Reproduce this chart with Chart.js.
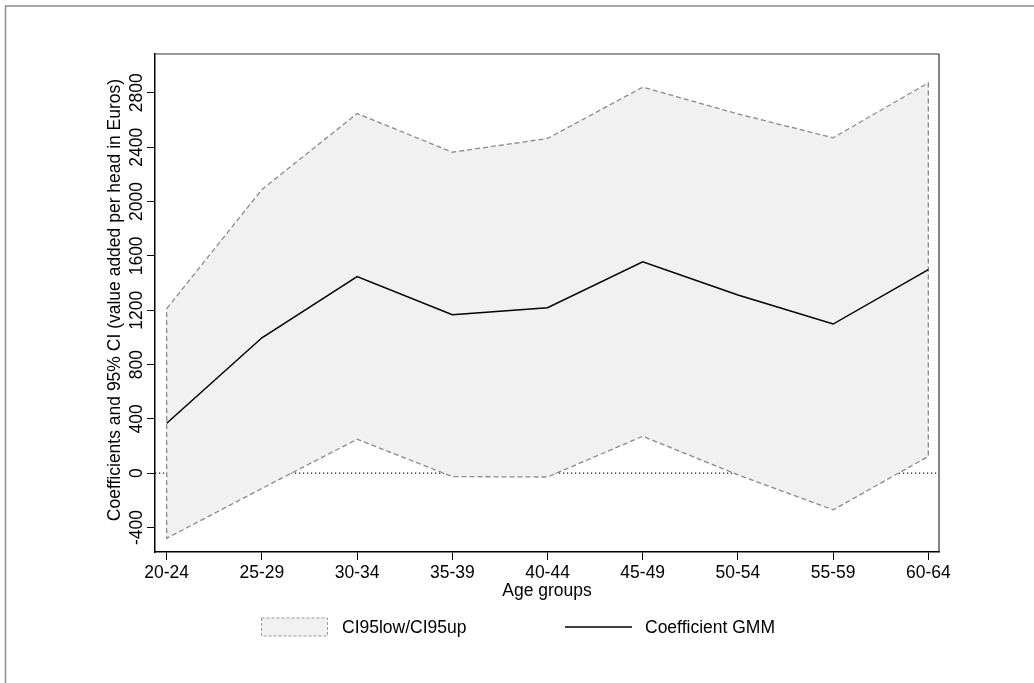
<!DOCTYPE html>
<html>
<head>
<meta charset="utf-8">
<script src="https://cdn.jsdelivr.net/npm/chart.js@4.4.1/dist/chart.umd.min.js"></script>
<style>
  body { margin: 0; background: #fff; }
  #wrap { width: 1034px; height: 683px; }
</style>
</head>
<body>
<div id="wrap"><canvas id="myChart"></canvas></div>
<script>
// data
const ageGroups = ['20-24', '25-29', '30-34', '35-39', '40-44', '45-49', '50-54', '55-59', '60-64'];
const coefGMM = [368, 997, 1447, 1167, 1218, 1557, 1312, 1098, 1498];
const ci95up = [1212, 2088, 2648, 2363, 2464, 2842, 2645, 2469, 2874];
const ci95low = [-479, -112, 250, -25, -28, 272, -12, -270, 124];
const yTicks = [-400, 0, 400, 800, 1200, 1600, 2000, 2400, 2800];
const yTitle = 'Coefficients and 95% CI (value added per head in Euros)';
const xTitle = 'Age groups';
const legendLabels = ['CI95low/CI95up', 'Coefficient GMM'];

const FONT = '17.5px "Liberation Sans", Arial, sans-serif';
const X_MIN = -0.123, X_MAX = 8.112;

// closed polygon: upper bound left->right, lower bound right->left
const band = ci95up.map((v, i) => ({ x: i, y: v }))
    .concat(ci95low.map((v, i) => ({ x: i, y: v })).reverse());
band.push(band[0]);

const coefPoints = coefGMM.map((v, i) => ({ x: i, y: v }));
const zeroLine = [{ x: X_MIN, y: 0 }, { x: X_MAX, y: 0 }];

const extras = {
    id: 'extras',
    beforeDraw(chart) {
        const ctx = chart.ctx;
        ctx.save();
        ctx.strokeStyle = '#8f8f8f';
        ctx.lineWidth = 1.5;
        ctx.beginPath();
        ctx.moveTo(5.5, chart.height);
        ctx.lineTo(5.5, 6);
        ctx.lineTo(chart.width, 6);
        ctx.stroke();
        ctx.restore();
    },
    afterDraw(chart) {
        const ctx = chart.ctx;
        const a = chart.chartArea;
        const y = chart.scales.y;
        ctx.save();
        // top and right edges of the plot box
        ctx.strokeStyle = '#333';
        ctx.lineWidth = 1.2;
        ctx.beginPath();
        ctx.moveTo(a.left, a.top);
        ctx.lineTo(a.right, a.top);
        ctx.lineTo(a.right, a.bottom);
        ctx.stroke();

        ctx.font = FONT;
        ctx.fillStyle = '#000';
        ctx.textAlign = 'center';
        ctx.textBaseline = 'alphabetic';
        // rotated y tick labels
        y.ticks.forEach(t => {
            ctx.save();
            ctx.translate(a.left - 13, y.getPixelForValue(t.value));
            ctx.rotate(-Math.PI / 2);
            ctx.fillText(String(t.value), 0, 0);
            ctx.restore();
        });
        // y title
        ctx.save();
        ctx.translate(a.left - 35.5, (a.top + a.bottom) / 2 - 3);
        ctx.rotate(-Math.PI / 2);
        ctx.fillText(yTitle, 0, 0);
        ctx.restore();
        // x title
        ctx.fillText(xTitle, (a.left + a.right) / 2, a.bottom + 44);

        // legend
        const ly = a.bottom + 75;
        ctx.fillStyle = '#f1f1f1';
        ctx.fillRect(261.5, ly - 9, 66, 18);
        ctx.setLineDash([3, 2]);
        ctx.strokeStyle = '#999';
        ctx.lineWidth = 1;
        ctx.strokeRect(261.5, ly - 9, 66, 18);
        ctx.setLineDash([]);
        ctx.strokeStyle = '#000';
        ctx.lineWidth = 1.5;
        ctx.beginPath();
        ctx.moveTo(565, ly);
        ctx.lineTo(632, ly);
        ctx.stroke();
        ctx.fillStyle = '#000';
        ctx.textAlign = 'left';
        ctx.fillText(legendLabels[0], 342, ly + 6);
        ctx.fillText(legendLabels[1], 645, ly + 6);
        ctx.restore();
    }
};

const ctx = document.getElementById('myChart').getContext('2d');
new Chart(ctx, {
    type: 'scatter',
    data: {
        datasets: [
            {
                label: 'zero',
                data: zeroLine,
                showLine: true,
                borderColor: '#111',
                borderWidth: 1.2,
                borderDash: [1.2, 2.8],
                pointRadius: 0,
                order: 3
            },
            {
                label: legendLabels[0],
                data: band,
                showLine: true,
                fill: 'shape',
                backgroundColor: '#f1f1f1',
                borderColor: '#8a8a8a',
                borderWidth: 1.3,
                borderDash: [5, 3],
                pointRadius: 0,
                order: 2
            },
            {
                label: legendLabels[1],
                data: coefPoints,
                showLine: true,
                borderColor: '#000',
                borderWidth: 1.5,
                pointRadius: 0,
                order: 1
            }
        ]
    },
    options: {
        responsive: true,
        maintainAspectRatio: false,
        animation: false,
        events: [],
        layout: { padding: { left: 0, right: 95, top: 54, bottom: 81 } },
        plugins: {
            legend: { display: false },
            tooltip: { enabled: false }
        },
        scales: {
            x: {
                type: 'linear',
                min: X_MIN,
                max: X_MAX,
                afterBuildTicks: s => { s.ticks = ageGroups.map((c, i) => ({ value: i })); },
                afterFit: s => { s.height = 50; s.paddingLeft = 0; s.paddingRight = 0; },
                grid: { drawOnChartArea: false, drawTicks: true, tickLength: 8, tickColor: '#000', tickWidth: 1 },
                border: { display: true, color: '#000', width: 1.5 },
                ticks: {
                    color: '#000',
                    font: { family: '"Liberation Sans", Arial, sans-serif', size: 17.5 },
                    padding: 3,
                    maxRotation: 0,
                    autoSkip: false,
                    callback: v => ageGroups[v]
                }
            },
            y: {
                type: 'linear',
                min: -580,
                max: 3086,
                afterBuildTicks: s => { s.ticks = yTicks.map(v => ({ value: v })); },
                afterFit: s => { s.width = 155; s.paddingTop = 0; s.paddingBottom = 0; },
                grid: { drawOnChartArea: false, drawTicks: true, tickLength: 8, tickColor: '#000', tickWidth: 1 },
                border: { display: true, color: '#000', width: 1.5 },
                ticks: { display: false }
            }
        }
    },
    plugins: [extras]
});
</script>
</body>
</html>
